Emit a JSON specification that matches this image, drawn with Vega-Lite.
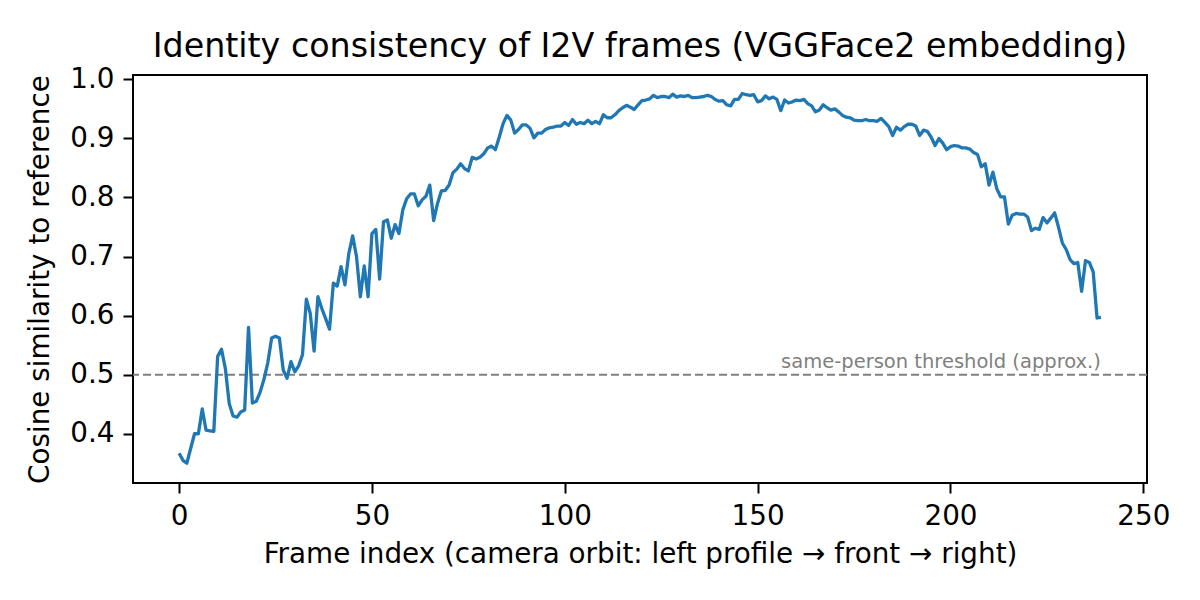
{
  "$schema": "https://vega.github.io/schema/vega-lite/v6.json",
  "autosize": {"type": "none"},
  "padding": {"left": 133, "top": 75, "right": 53, "bottom": 117},
  "width": 1014,
  "height": 408,
  "background": "white",
  "title": {
    "text": "Identity consistency of I2V frames (VGGFace2 embedding)",
    "font": "DejaVu Sans",
    "fontSize": 33.3,
    "fontWeight": "normal",
    "color": "black",
    "offset": 1
  },
  "config": {
    "view": {"stroke": "black", "strokeWidth": 2},
    "axis": {
      "domain": false,
      "grid": false,
      "tickColor": "black",
      "tickWidth": 2,
      "tickSize": 10,
      "labelFont": "DejaVu Sans",
      "labelFontSize": 27.8,
      "labelColor": "black",
      "labelPadding": 9,
      "titleFont": "DejaVu Sans",
      "titleFontSize": 27.8,
      "titleFontWeight": "normal",
      "titleColor": "black"
    }
  },
  "layer": [
    {
      "data": {"values": [{"threshold": 0.5}]},
      "mark": {"type": "rule", "color": "#808080", "strokeWidth": 2, "strokeDash": [8, 4]},
      "encoding": {"y": {"field": "threshold", "type": "quantitative"}}
    },
    {
      "data": {"values": [{"frame": 239, "sim": 0.5, "label": "same-person threshold (approx.)"}]},
      "mark": {"type": "text", "align": "right", "baseline": "bottom", "dy": -3, "font": "DejaVu Sans", "fontSize": 19.5, "color": "#808080"},
      "encoding": {
        "x": {"field": "frame", "type": "quantitative"},
        "y": {"field": "sim", "type": "quantitative"},
        "text": {"field": "label"}
      }
    },
    {
      "data": {
        "values": [
          {"frame": 0, "sim": 0.367}, {"frame": 1, "sim": 0.355}, {"frame": 2, "sim": 0.350}, {"frame": 3, "sim": 0.375},
          {"frame": 4, "sim": 0.400}, {"frame": 5, "sim": 0.400}, {"frame": 6, "sim": 0.442}, {"frame": 7, "sim": 0.406},
          {"frame": 8, "sim": 0.405}, {"frame": 9, "sim": 0.404}, {"frame": 10, "sim": 0.531}, {"frame": 11, "sim": 0.543},
          {"frame": 12, "sim": 0.510}, {"frame": 13, "sim": 0.451}, {"frame": 14, "sim": 0.430}, {"frame": 15, "sim": 0.428},
          {"frame": 16, "sim": 0.437}, {"frame": 17, "sim": 0.440}, {"frame": 18, "sim": 0.580}, {"frame": 19, "sim": 0.452},
          {"frame": 20, "sim": 0.455}, {"frame": 21, "sim": 0.470}, {"frame": 22, "sim": 0.492}, {"frame": 23, "sim": 0.520},
          {"frame": 24, "sim": 0.562}, {"frame": 25, "sim": 0.565}, {"frame": 26, "sim": 0.562}, {"frame": 27, "sim": 0.508},
          {"frame": 28, "sim": 0.494}, {"frame": 29, "sim": 0.522}, {"frame": 30, "sim": 0.505}, {"frame": 31, "sim": 0.515},
          {"frame": 32, "sim": 0.534}, {"frame": 33, "sim": 0.628}, {"frame": 34, "sim": 0.604}, {"frame": 35, "sim": 0.540},
          {"frame": 36, "sim": 0.632}, {"frame": 37, "sim": 0.612}, {"frame": 38, "sim": 0.595}, {"frame": 39, "sim": 0.577},
          {"frame": 40, "sim": 0.655}, {"frame": 41, "sim": 0.650}, {"frame": 42, "sim": 0.683}, {"frame": 43, "sim": 0.652},
          {"frame": 44, "sim": 0.705}, {"frame": 45, "sim": 0.735}, {"frame": 46, "sim": 0.700}, {"frame": 47, "sim": 0.632},
          {"frame": 48, "sim": 0.684}, {"frame": 49, "sim": 0.632}, {"frame": 50, "sim": 0.739}, {"frame": 51, "sim": 0.746},
          {"frame": 52, "sim": 0.662}, {"frame": 53, "sim": 0.759}, {"frame": 54, "sim": 0.762}, {"frame": 55, "sim": 0.731},
          {"frame": 56, "sim": 0.754}, {"frame": 57, "sim": 0.739}, {"frame": 58, "sim": 0.779}, {"frame": 59, "sim": 0.798},
          {"frame": 60, "sim": 0.806}, {"frame": 61, "sim": 0.806}, {"frame": 62, "sim": 0.786}, {"frame": 63, "sim": 0.796},
          {"frame": 64, "sim": 0.802}, {"frame": 65, "sim": 0.821}, {"frame": 66, "sim": 0.761}, {"frame": 67, "sim": 0.790},
          {"frame": 68, "sim": 0.811}, {"frame": 69, "sim": 0.812}, {"frame": 70, "sim": 0.821}, {"frame": 71, "sim": 0.842},
          {"frame": 72, "sim": 0.848}, {"frame": 73, "sim": 0.857}, {"frame": 74, "sim": 0.849}, {"frame": 75, "sim": 0.845},
          {"frame": 76, "sim": 0.868}, {"frame": 77, "sim": 0.865}, {"frame": 78, "sim": 0.868}, {"frame": 79, "sim": 0.874},
          {"frame": 80, "sim": 0.884}, {"frame": 81, "sim": 0.887}, {"frame": 82, "sim": 0.881}, {"frame": 83, "sim": 0.902},
          {"frame": 84, "sim": 0.925}, {"frame": 85, "sim": 0.939}, {"frame": 86, "sim": 0.931}, {"frame": 87, "sim": 0.909},
          {"frame": 88, "sim": 0.915}, {"frame": 89, "sim": 0.923}, {"frame": 90, "sim": 0.923}, {"frame": 91, "sim": 0.917},
          {"frame": 92, "sim": 0.901}, {"frame": 93, "sim": 0.909}, {"frame": 94, "sim": 0.909}, {"frame": 95, "sim": 0.915},
          {"frame": 96, "sim": 0.918}, {"frame": 97, "sim": 0.919}, {"frame": 98, "sim": 0.921}, {"frame": 99, "sim": 0.921},
          {"frame": 100, "sim": 0.927}, {"frame": 101, "sim": 0.922}, {"frame": 102, "sim": 0.932}, {"frame": 103, "sim": 0.924},
          {"frame": 104, "sim": 0.927}, {"frame": 105, "sim": 0.925}, {"frame": 106, "sim": 0.931}, {"frame": 107, "sim": 0.925},
          {"frame": 108, "sim": 0.929}, {"frame": 109, "sim": 0.925}, {"frame": 110, "sim": 0.940}, {"frame": 111, "sim": 0.935},
          {"frame": 112, "sim": 0.935}, {"frame": 113, "sim": 0.940}, {"frame": 114, "sim": 0.947}, {"frame": 115, "sim": 0.952},
          {"frame": 116, "sim": 0.956}, {"frame": 117, "sim": 0.953}, {"frame": 118, "sim": 0.949}, {"frame": 119, "sim": 0.957},
          {"frame": 120, "sim": 0.964}, {"frame": 121, "sim": 0.965}, {"frame": 122, "sim": 0.967}, {"frame": 123, "sim": 0.973},
          {"frame": 124, "sim": 0.969}, {"frame": 125, "sim": 0.971}, {"frame": 126, "sim": 0.971}, {"frame": 127, "sim": 0.969},
          {"frame": 128, "sim": 0.975}, {"frame": 129, "sim": 0.970}, {"frame": 130, "sim": 0.972}, {"frame": 131, "sim": 0.971},
          {"frame": 132, "sim": 0.973}, {"frame": 133, "sim": 0.969}, {"frame": 134, "sim": 0.969}, {"frame": 135, "sim": 0.970},
          {"frame": 136, "sim": 0.971}, {"frame": 137, "sim": 0.973}, {"frame": 138, "sim": 0.971}, {"frame": 139, "sim": 0.966},
          {"frame": 140, "sim": 0.963}, {"frame": 141, "sim": 0.964}, {"frame": 142, "sim": 0.957}, {"frame": 143, "sim": 0.955},
          {"frame": 144, "sim": 0.966}, {"frame": 145, "sim": 0.966}, {"frame": 146, "sim": 0.976}, {"frame": 147, "sim": 0.974},
          {"frame": 148, "sim": 0.973}, {"frame": 149, "sim": 0.974}, {"frame": 150, "sim": 0.962}, {"frame": 151, "sim": 0.964},
          {"frame": 152, "sim": 0.972}, {"frame": 153, "sim": 0.967}, {"frame": 154, "sim": 0.970}, {"frame": 155, "sim": 0.966},
          {"frame": 156, "sim": 0.947}, {"frame": 157, "sim": 0.965}, {"frame": 158, "sim": 0.960}, {"frame": 159, "sim": 0.962},
          {"frame": 160, "sim": 0.965}, {"frame": 161, "sim": 0.964}, {"frame": 162, "sim": 0.966}, {"frame": 163, "sim": 0.959},
          {"frame": 164, "sim": 0.955}, {"frame": 165, "sim": 0.945}, {"frame": 166, "sim": 0.948}, {"frame": 167, "sim": 0.957},
          {"frame": 168, "sim": 0.952}, {"frame": 169, "sim": 0.948}, {"frame": 170, "sim": 0.950}, {"frame": 171, "sim": 0.945},
          {"frame": 172, "sim": 0.939}, {"frame": 173, "sim": 0.936}, {"frame": 174, "sim": 0.935}, {"frame": 175, "sim": 0.931},
          {"frame": 176, "sim": 0.930}, {"frame": 177, "sim": 0.930}, {"frame": 178, "sim": 0.932}, {"frame": 179, "sim": 0.930},
          {"frame": 180, "sim": 0.930}, {"frame": 181, "sim": 0.929}, {"frame": 182, "sim": 0.934}, {"frame": 183, "sim": 0.927},
          {"frame": 184, "sim": 0.920}, {"frame": 185, "sim": 0.905}, {"frame": 186, "sim": 0.919}, {"frame": 187, "sim": 0.914},
          {"frame": 188, "sim": 0.920}, {"frame": 189, "sim": 0.924}, {"frame": 190, "sim": 0.924}, {"frame": 191, "sim": 0.921},
          {"frame": 192, "sim": 0.905}, {"frame": 193, "sim": 0.914}, {"frame": 194, "sim": 0.912}, {"frame": 195, "sim": 0.902},
          {"frame": 196, "sim": 0.888}, {"frame": 197, "sim": 0.900}, {"frame": 198, "sim": 0.892}, {"frame": 199, "sim": 0.881},
          {"frame": 200, "sim": 0.886}, {"frame": 201, "sim": 0.888}, {"frame": 202, "sim": 0.887}, {"frame": 203, "sim": 0.884},
          {"frame": 204, "sim": 0.884}, {"frame": 205, "sim": 0.882}, {"frame": 206, "sim": 0.876}, {"frame": 207, "sim": 0.873},
          {"frame": 208, "sim": 0.852}, {"frame": 209, "sim": 0.857}, {"frame": 210, "sim": 0.821}, {"frame": 211, "sim": 0.843},
          {"frame": 212, "sim": 0.815}, {"frame": 213, "sim": 0.801}, {"frame": 214, "sim": 0.801}, {"frame": 215, "sim": 0.755},
          {"frame": 216, "sim": 0.770}, {"frame": 217, "sim": 0.773}, {"frame": 218, "sim": 0.772}, {"frame": 219, "sim": 0.772},
          {"frame": 220, "sim": 0.767}, {"frame": 221, "sim": 0.744}, {"frame": 222, "sim": 0.748}, {"frame": 223, "sim": 0.746},
          {"frame": 224, "sim": 0.766}, {"frame": 225, "sim": 0.757}, {"frame": 226, "sim": 0.765}, {"frame": 227, "sim": 0.774},
          {"frame": 228, "sim": 0.750}, {"frame": 229, "sim": 0.723}, {"frame": 230, "sim": 0.712}, {"frame": 231, "sim": 0.695},
          {"frame": 232, "sim": 0.688}, {"frame": 233, "sim": 0.690}, {"frame": 234, "sim": 0.641}, {"frame": 235, "sim": 0.693},
          {"frame": 236, "sim": 0.690}, {"frame": 237, "sim": 0.674}, {"frame": 238, "sim": 0.596}, {"frame": 239, "sim": 0.597}
        ]
      },
      "mark": {"type": "line", "color": "#1f77b4", "strokeWidth": 3.3, "strokeJoin": "round"},
      "encoding": {
        "x": {
          "field": "frame",
          "type": "quantitative",
          "title": "Frame index (camera orbit: left profile → front → right)",
          "scale": {"domain": [-11.95, 250.95], "nice": false, "zero": false},
          "axis": {"values": [0, 50, 100, 150, 200, 250], "titlePadding": 11}
        },
        "y": {
          "field": "sim",
          "type": "quantitative",
          "title": "Cosine similarity to reference",
          "scale": {"domain": [0.3166, 1.0074], "nice": false, "zero": false},
          "axis": {"values": [0.4, 0.5, 0.6, 0.7, 0.8, 0.9, 1.0], "format": ".1f", "titlePadding": 15}
        }
      }
    }
  ]
}
